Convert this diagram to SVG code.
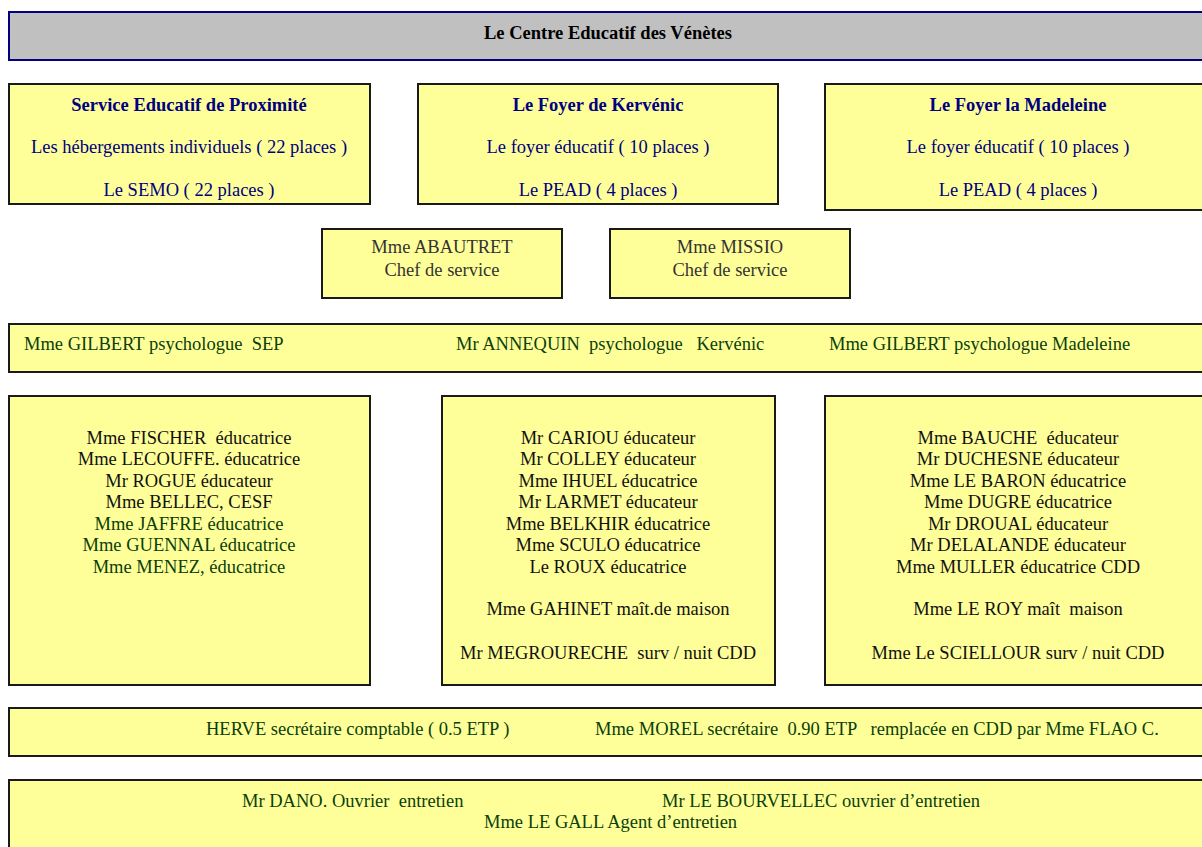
<svg xmlns="http://www.w3.org/2000/svg" width="1202" height="847" viewBox="0 0 1202 847">
<style>
  text { font-family: "Liberation Serif", "Times New Roman", serif; font-size: 18.5px; white-space: pre; }
  .box { fill: #FFFF99; stroke: #1a1a1a; stroke-width: 2; }
  .title { fill: #C0C0C0; stroke: #000080; stroke-width: 2; }
  .hd { fill: #000080; font-weight: bold; text-anchor: middle; }
  .nv { fill: #000080; text-anchor: middle; }
  .bk { fill: #111111; text-anchor: middle; }
  .gy { fill: #333333; text-anchor: middle; }
  .gr { fill: #0A400A; text-anchor: middle; }
  .grl { fill: #0A400A; }
</style>
<rect width="1202" height="847" fill="#FFFFFF"/>

<g id="title">
  <rect class="title" x="9" y="12" width="1210" height="48"/>
  <text x="608" y="39" style="font-weight:bold;text-anchor:middle;fill:#000000">Le Centre Educatif des Vénètes</text>
</g>

<g id="sep">
  <rect class="box" x="9" y="84" width="361" height="120"/>
  <text class="hd" x="189" y="111">Service Educatif de Proximité</text>
  <text class="nv" x="189" y="153">Les hébergements individuels ( 22 places )</text>
  <text class="nv" x="189" y="196">Le SEMO ( 22 places )</text>
</g>

<g id="kervenic">
  <rect class="box" x="418" y="84" width="360" height="120"/>
  <text class="hd" x="598" y="111">Le Foyer de Kervénic</text>
  <text class="nv" x="598" y="153">Le foyer éducatif ( 10 places )</text>
  <text class="nv" x="598" y="196">Le PEAD ( 4 places )</text>
</g>

<g id="madeleine">
  <rect class="box" x="825" y="84" width="390" height="126"/>
  <text class="hd" x="1018" y="111">Le Foyer la Madeleine</text>
  <text class="nv" x="1018" y="153">Le foyer éducatif ( 10 places )</text>
  <text class="nv" x="1018" y="196">Le PEAD ( 4 places )</text>
</g>

<g id="abautret">
  <rect class="box" x="322" y="229" width="240" height="69"/>
  <text class="gy" x="442" y="253">Mme ABAUTRET</text>
  <text class="gy" x="442" y="276">Chef de service</text>
</g>

<g id="missio">
  <rect class="box" x="610" y="229" width="240" height="69"/>
  <text class="gy" x="730" y="253">Mme MISSIO</text>
  <text class="gy" x="730" y="276">Chef de service</text>
</g>

<g id="psychologues">
  <rect class="box" x="9" y="324" width="1210" height="48"/>
  <text class="grl" x="24" y="350">Mme GILBERT psychologue  SEP</text>
  <text class="grl" x="456" y="350">Mr ANNEQUIN  psychologue   Kervénic</text>
  <text class="grl" x="829" y="350">Mme GILBERT psychologue Madeleine</text>
</g>

<g id="equipe-sep">
  <rect class="box" x="9" y="396" width="361" height="289"/>
  <text class="bk" x="189" y="444">Mme FISCHER  éducatrice</text>
  <text class="bk" x="189" y="465">Mme LECOUFFE. éducatrice</text>
  <text class="bk" x="189" y="487">Mr ROGUE éducateur</text>
  <text class="bk" x="189" y="508">Mme BELLEC, CESF</text>
  <text class="gr" x="189" y="530">Mme JAFFRE éducatrice</text>
  <text class="gr" x="189" y="551">Mme GUENNAL éducatrice</text>
  <text class="gr" x="189" y="573">Mme MENEZ, éducatrice</text>
</g>

<g id="equipe-kervenic">
  <rect class="box" x="442" y="396" width="333" height="289"/>
  <text class="bk" x="608" y="444">Mr CARIOU éducateur</text>
  <text class="bk" x="608" y="465">Mr COLLEY éducateur</text>
  <text class="bk" x="608" y="487">Mme IHUEL éducatrice</text>
  <text class="bk" x="608" y="508">Mr LARMET éducateur</text>
  <text class="bk" x="608" y="530">Mme BELKHIR éducatrice</text>
  <text class="bk" x="608" y="551">Mme SCULO éducatrice</text>
  <text class="bk" x="608" y="573">Le ROUX éducatrice</text>
  <text class="bk" x="608" y="615">Mme GAHINET maît.de maison</text>
  <text class="bk" x="608" y="659">Mr MEGROURECHE  surv / nuit CDD</text>
</g>

<g id="equipe-madeleine">
  <rect class="box" x="825" y="396" width="390" height="289"/>
  <text class="bk" x="1018" y="444">Mme BAUCHE  éducateur</text>
  <text class="bk" x="1018" y="465">Mr DUCHESNE éducateur</text>
  <text class="bk" x="1018" y="487">Mme LE BARON éducatrice</text>
  <text class="bk" x="1018" y="508">Mme DUGRE éducatrice</text>
  <text class="bk" x="1018" y="530">Mr DROUAL éducateur</text>
  <text class="bk" x="1018" y="551">Mr DELALANDE éducateur</text>
  <text class="bk" x="1018" y="573">Mme MULLER éducatrice CDD</text>
  <text class="bk" x="1018" y="615">Mme LE ROY maît  maison</text>
  <text class="bk" x="1018" y="659">Mme Le SCIELLOUR surv / nuit CDD</text>
</g>

<g id="secretariat">
  <rect class="box" x="9" y="708" width="1210" height="48"/>
  <text class="grl" x="206" y="735">HERVE secrétaire comptable ( 0.5 ETP )</text>
  <text class="grl" x="595" y="735">Mme MOREL secrétaire  0.90 ETP   remplacée en CDD par Mme FLAO C.</text>
</g>

<g id="entretien">
  <rect class="box" x="9" y="780" width="1210" height="80"/>
  <text class="grl" x="242" y="807">Mr DANO. Ouvrier  entretien</text>
  <text class="grl" x="662" y="807">Mr LE BOURVELLEC ouvrier d’entretien</text>
  <text class="grl" x="484" y="828">Mme LE GALL Agent d’entretien</text>
</g>

<g id="connectors"></g>
</svg>
